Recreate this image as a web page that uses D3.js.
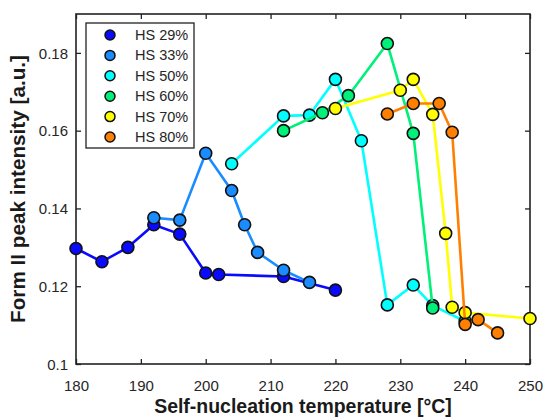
<!DOCTYPE html>
<html>
<head>
<meta charset="utf-8">
<script src="https://cdn.jsdelivr.net/npm/d3@7/dist/d3.min.js"></script>
<style>
  html, body { margin: 0; padding: 0; background: #fff; }
  svg { display: block; font-family: "Liberation Sans", Arial, Helvetica, sans-serif; }
</style>
</head>
<body>
<svg id="chart" width="545" height="420"></svg>
<script>
// ---- data ----
const seriesNames = ["HS 29%", "HS 33%", "HS 50%", "HS 60%", "HS 70%", "HS 80%"];
const seriesColors = ["#0a0aff", "#1a8cff", "#00ffff", "#00f07a", "#ffff00", "#ff8000"];

const hs29_x = [180, 184, 188, 192, 196, 200, 202, 212, 220];
const hs29_y = [0.1297, 0.1263, 0.1300, 0.1358, 0.1334, 0.1234, 0.1230, 0.1225, 0.1190];

const hs33_x = [192, 196, 200, 204, 206, 208, 212, 216];
const hs33_y = [0.1376, 0.1370, 0.1542, 0.1446, 0.1358, 0.1287, 0.1241, 0.1210];

const hs50_x = [204, 212, 216, 220, 224, 228, 232, 235, 240];
const hs50_y = [0.1515, 0.1638, 0.1640, 0.1732, 0.1574, 0.1152, 0.1203, 0.1150, 0.1110];

const hs60_x = [212, 218, 222, 228, 232, 235];
const hs60_y = [0.1600, 0.1646, 0.1690, 0.1824, 0.1593, 0.1144];

const hs70_x = [220, 230, 232, 235, 237, 238, 240, 250];
const hs70_y = [0.1657, 0.1704, 0.1732, 0.1642, 0.1336, 0.1146, 0.1132, 0.1117];

const hs80_x = [228, 232, 236, 238, 240, 242, 245];
const hs80_y = [0.1643, 0.1670, 0.1670, 0.1596, 0.1102, 0.1114, 0.1080];

const xTicks = [180, 190, 200, 210, 220, 230, 240, 250];
const yTicks = [0.1, 0.12, 0.14, 0.16, 0.18];
const xTitle = "Self-nucleation temperature [°C]";
const yTitle = "Form II peak intensity [a.u.]";

const seriesX = [hs29_x, hs33_x, hs50_x, hs60_x, hs70_x, hs80_x];
const seriesY = [hs29_y, hs33_y, hs50_y, hs60_y, hs70_y, hs80_y];

// ---- layout ----
const L = 76, R = 530, T = 14, B = 364;
const svg = d3.select("#chart");
const x = d3.scaleLinear().domain([180, 250]).range([L, R]);
const y = d3.scaleLinear().domain([0.1, 0.19]).range([B, T]);
const textCol = "#262626";

// axes (ticks inward, MATLAB style box)
const tickLen = 5;
const gx = svg.append("g").attr("transform", `translate(0,${B})`)
  .call(d3.axisBottom(x).tickValues(xTicks).tickSizeInner(-tickLen).tickSizeOuter(0).tickPadding(16).tickFormat(d3.format("d")));
const gxt = svg.append("g").attr("transform", `translate(0,${T})`)
  .call(d3.axisTop(x).tickValues(xTicks).tickSizeInner(-tickLen).tickSizeOuter(0).tickFormat(""));
const gy = svg.append("g").attr("transform", `translate(${L},0)`)
  .call(d3.axisLeft(y).tickValues(yTicks).tickSizeInner(-tickLen).tickSizeOuter(0).tickPadding(8).tickFormat(d => d3.format("")(+d.toFixed(2))));
const gyr = svg.append("g").attr("transform", `translate(${R},0)`)
  .call(d3.axisRight(y).tickValues(yTicks).tickSizeInner(-tickLen).tickSizeOuter(0).tickFormat(""));

[gx, gxt, gy, gyr].forEach(g => {
  g.select(".domain").remove();
  g.selectAll(".tick line").attr("stroke", "#222").attr("stroke-width", 1.3);
  g.selectAll("text").attr("fill", textCol).style("font-size", "15px")
    .style("font-family", '"Liberation Sans", Arial, sans-serif');
});
gy.selectAll(".tick text").attr("dy", "0.35em");

// frame
svg.append("rect").attr("x", L).attr("y", T).attr("width", R - L).attr("height", B - T)
  .attr("fill", "none").attr("stroke", "#222").attr("stroke-width", 1.6);

// axis titles
function fitTitle(sel, target) {
  const w = sel.node().getComputedTextLength();
  const fs = 18 * target / w;
  sel.style("font-size", fs + "px");
}
const xt = svg.append("text").attr("x", (L + R) / 2).attr("y", 413).attr("text-anchor", "middle")
  .attr("fill", "#1a1a1a").style("font-size", "18px").style("font-weight", "bold").text(xTitle);
fitTitle(xt, 298);
const yt = svg.append("text").attr("transform", `translate(25,${(T + B) / 2}) rotate(-90)`).attr("text-anchor", "middle")
  .attr("fill", "#1a1a1a").style("font-size", "18px").style("font-weight", "bold").text(yTitle);
fitTitle(yt, 268);

// series
const line = d3.line().x(d => x(d[0])).y(d => y(d[1]));
seriesNames.forEach((name, i) => {
  const pts = seriesX[i].map((v, j) => [v, seriesY[i][j]]);
  const g = svg.append("g");
  g.append("path").datum(pts).attr("d", line).attr("fill", "none")
    .attr("stroke", seriesColors[i]).attr("stroke-width", 2.6).attr("stroke-linejoin", "round");
  g.selectAll("circle").data(pts).join("circle")
    .attr("cx", d => x(d[0])).attr("cy", d => y(d[1])).attr("r", 6)
    .attr("fill", seriesColors[i]).attr("stroke", "#111").attr("stroke-width", 1.6);
});

// legend
const lg = svg.append("g");
lg.append("rect").attr("x", 86).attr("y", 23).attr("width", 108).attr("height", 125)
  .attr("fill", "#fff").attr("stroke", "#222").attr("stroke-width", 1.3);
seriesNames.forEach((name, i) => {
  const cy = 35 + i * 20.4;
  lg.append("circle").attr("cx", 110).attr("cy", cy).attr("r", 5)
    .attr("fill", seriesColors[i]).attr("stroke", "#111").attr("stroke-width", 1.5);
  lg.append("text").attr("x", 135).attr("y", cy).attr("dy", "0.35em")
    .attr("fill", textCol).style("font-size", "14.5px").text(name);
});
</script>
</body>
</html>
